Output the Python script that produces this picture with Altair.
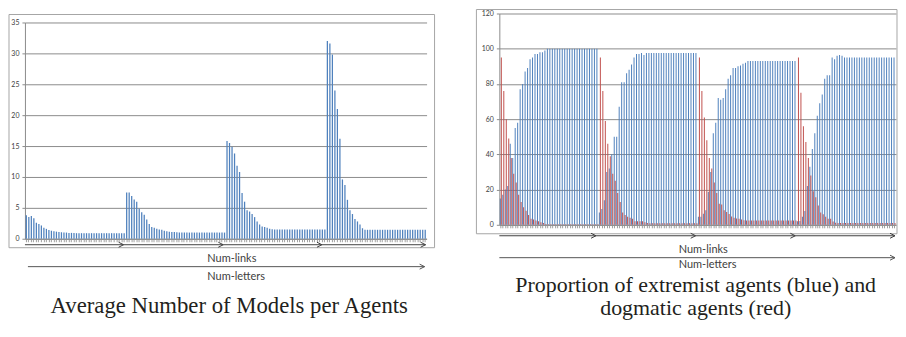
import altair as alt
import pandas as pd

# ---------------- data ----------------
# Left: average number of models per agent (4 groups x 40 settings)
models_g1 = [3.8, 3.5, 3.7, 3.3, 2.6, 2.4, 2.15, 1.8, 1.6, 1.4,
             1.3, 1.2, 1.15, 1.1, 1.05, 1.0, 1.0, 0.95, 0.95, 0.95,
             0.9, 0.9, 0.9, 0.9, 0.9, 0.9, 0.9, 0.9, 0.9, 0.9,
             0.9, 0.9, 0.9, 0.9, 0.9, 0.9, 0.9, 0.9, 0.9, 0.9]
models_g2 = [7.5, 7.5, 6.9, 6.35, 6.0, 4.9, 4.3, 3.9, 3.1, 2.4,
             1.9, 1.8, 1.6, 1.5, 1.45, 1.3, 1.2, 1.15, 1.1, 1.1,
             1.05, 1.0, 1.0, 1.0, 1.0, 1.0, 1.0, 1.0, 1.0, 1.0,
             1.0, 1.0, 1.0, 1.0, 1.0, 1.0, 1.0, 1.0, 1.0, 1.0]
models_g3 = [15.8, 15.5, 14.9, 13.8, 11.8, 10.8, 7.4, 6.0, 4.6, 4.4,
             4.0, 3.5, 2.8, 2.3, 2.0, 1.9, 1.8, 1.6, 1.55, 1.5,
             1.5, 1.5, 1.5, 1.5, 1.5, 1.5, 1.5, 1.5, 1.5, 1.5,
             1.5, 1.5, 1.5, 1.5, 1.5, 1.5, 1.5, 1.5, 1.5, 1.5]
models_g4 = [32.0, 31.6, 29.8, 24.0, 21.0, 16.2, 9.6, 8.7, 6.3, 4.6,
             4.0, 3.2, 2.8, 2.3, 1.7, 1.45, 1.45, 1.45, 1.45, 1.45,
             1.45, 1.45, 1.45, 1.45, 1.45, 1.45, 1.45, 1.45, 1.45, 1.45,
             1.45, 1.45, 1.45, 1.45, 1.45, 1.45, 1.45, 1.45, 1.45, 1.45]

# Right: proportion of extremist (blue) and dogmatic (red) agents
extremist_g1 = [15, 17, 20, 22, 46, 38, 55, 58, 77, 80,
                87, 89, 94, 95, 97, 97, 98, 98, 99, 100,
                100, 100, 100, 100, 100, 100, 100, 100, 100, 100,
                100, 100, 100, 100, 100, 100, 100, 100, 100, 100]
dogmatic_g1 = [95, 76, 60, 49, 38, 29, 24, 17, 13, 10,
               8, 5.5, 3.5, 3, 2.5, 2, 1.5, 1, 0.5, 0.3,
               0.3, 0.3, 0.3, 0.3, 0.3, 0.3, 0.3, 0.3, 0.3, 0.3,
               0.3, 0.3, 0.3, 0.3, 0.3, 0.3, 0.3, 0.3, 0.3, 0.3]
extremist_g2 = [7, 9, 14, 30, 32, 40, 50, 50, 67, 81,
                81, 86, 88, 91, 95, 97, 97, 97.5, 96.5, 97.5,
                97.5, 97.5, 97.5, 97.5, 97.5, 97.5, 97.5, 97.5, 97.5, 97.5,
                97.5, 97.5, 97.5, 97.5, 97.5, 97.5, 97.5, 97.5, 97.5, 97.5]
dogmatic_g2 = [95, 76, 59, 46, 39, 29, 25, 18, 13, 7,
               5.5, 4.5, 4, 3.5, 2, 2, 2, 2, 1.5, 1,
               0.9, 0.9, 0.9, 0.9, 0.9, 0.9, 0.9, 0.9, 0.9, 0.9,
               0.9, 0.9, 0.9, 0.9, 0.9, 0.9, 0.9, 0.9, 0.9, 0.9]
extremist_g3 = [4.5, 4.5, 6.3, 8.2, 18.6, 30, 52, 58, 72, 71,
                72, 77, 83, 85, 89, 89, 90, 90.5, 91.5, 92,
                93, 93, 93, 93, 93, 93, 93, 93, 93, 93,
                93, 93, 93, 93, 93, 93, 93, 93, 93, 93]
dogmatic_g3 = [95, 76, 61, 48, 38, 32, 24, 18, 12, 11.5,
               8.2, 7.3, 6.1, 4.7, 4, 3.6, 3.4, 3, 2.6, 2.4,
               2.4, 2.4, 2.4, 2.4, 2.4, 2.4, 2.4, 2.4, 2.4, 2.4,
               2.4, 2.4, 2.4, 2.4, 2.4, 2.4, 2.4, 2.4, 2.4, 2.4]
extremist_g4 = [2, 2.2, 4.5, 7.8, 22, 33, 43, 52, 62, 69,
                74, 83, 85, 85, 95, 94, 96, 96.5, 96, 95,
                95, 95, 95, 95, 95, 95, 95, 95, 95, 95,
                95, 95, 95, 95, 95, 95, 95, 95, 95, 95]
dogmatic_g4 = [95, 75, 56, 47, 38, 28, 19, 15.6, 11, 7,
               6, 4.5, 3.4, 3.4, 1.9, 1.2, 1.0, 1.0, 1.0, 1.0,
               1.0, 1.0, 1.0, 1.0, 1.0, 1.0, 1.0, 1.0, 1.0, 1.0,
               1.0, 1.0, 1.0, 1.0, 1.0, 1.0, 1.0, 1.0, 1.0, 1.0]

left_ticks = [0, 5, 10, 15, 20, 25, 30, 35]
right_ticks = [0, 20, 40, 60, 80, 100, 120]
series_names = ["extremist", "dogmatic"]

# ---------------- tables ----------------
models = models_g1 + models_g2 + models_g3 + models_g4
extremist = extremist_g1 + extremist_g2 + extremist_g3 + extremist_g4
dogmatic = dogmatic_g1 + dogmatic_g2 + dogmatic_g3 + dogmatic_g4

left_df = pd.DataFrame({"i": list(range(len(models))), "v": models})
n = len(extremist)
right_df = pd.DataFrame({
    "i": list(range(n)) + list(range(n)),
    "s": [series_names[0]] * n + [series_names[1]] * n,
    "v": extremist + dogmatic,
})

BLUE = "#4F81BD"
RED = "#C0504D"
GRID = "#8C8C8C"
FRAME = "#A6A6A6"
DARK = "#404040"
ONE = alt.Data(values=[{}])


def seg(x1, y1, x2, y2, color=DARK, width=1):
    return alt.Chart(ONE).mark_rule(color=color, strokeWidth=width).encode(
        x=alt.value(x1), y=alt.value(y1), x2=alt.value(x2), y2=alt.value(y2))


def arrow(x0, x1, y, color=DARK):
    return [seg(x0, y, x1, y, color), seg(x1 - 5, y - 2.5, x1, y, color),
            seg(x1 - 5, y + 2.5, x1, y, color)]


def label(txt, x, y, size=11, font="Lato", align="left", color=DARK):
    return alt.Chart(ONE).mark_text(text=txt, align=align, baseline="middle",
                                    font=font, fontSize=size, color=color).encode(
        x=alt.value(x), y=alt.value(y))


def frame(x0, x1, y0, y1):
    return alt.Chart(ONE).mark_rect(fillOpacity=0, stroke=FRAME, strokeWidth=1).encode(
        x=alt.value(x0), x2=alt.value(x1), y=alt.value(y0), y2=alt.value(y1))


x_axis = alt.Axis(labels=False, ticks=True, tickSize=3, tickColor="#A0A0A0",
                  domainColor=GRID, grid=False, title=None)


def y_axis(vals):
    return alt.Axis(values=vals, grid=True, gridColor=GRID, gridWidth=1,
                    domainColor=GRID, tickColor=GRID, tickSize=3, labelPadding=3,
                    labelFontSize=7, labelFont="Lato", labelColor=DARK, title=None)


# ---------------- left panel ----------------
# plot area starts 9px above the "35" gridline so both panels share one origin
W1, H1 = 403, 226
left_bars = alt.Chart(left_df).mark_bar(color=BLUE).encode(
    x=alt.X("i:O", scale=alt.Scale(paddingInner=0.5, paddingOuter=0.3), axis=x_axis),
    y=alt.Y("v:Q", scale=alt.Scale(domain=[0, 35], nice=False, range=[H1, 9]),
            axis=y_axis(left_ticks)),
)
left_layers = [frame(-16, 411, 1, 235), left_bars]
for a, b in [(0, 99), (99, 199), (199, 298), (298, 402)]:
    left_layers += arrow(a, b, 232)
left_layers += arrow(3, 401, 254, "#555555")
left_layers += [
    label("Num-links", 183, 246),
    label("Num-letters", 183, 264),
    label("Average Number of Models per Agents", 205, 294, size=22.8,
          font="Liberation Serif", align="center", color="#231F20"),
]
left = alt.layer(*left_layers).properties(width=W1, height=H1)

# ---------------- right panel ----------------
W2, H2 = 398, 212
right_bars = alt.Chart(right_df).mark_bar().encode(
    x=alt.X("i:O", scale=alt.Scale(paddingInner=0.2, paddingOuter=0.2), axis=x_axis),
    xOffset=alt.XOffset("s:N", scale=alt.Scale(domain=series_names)),
    y=alt.Y("v:Q", scale=alt.Scale(domain=[0, 120], nice=False), axis=y_axis(right_ticks)),
    color=alt.Color("s:N", scale=alt.Scale(domain=series_names, range=[BLUE, RED]), legend=None),
)
right_layers = [frame(-23, 399, -4, 221), right_bars]
for a, b in [(0, 97), (97, 197), (197, 297), (297, 397)]:
    right_layers += arrow(a, b, 223)
right_layers += arrow(0, 397, 245, "#555555")
right_layers += [
    label("Num-links", 180, 237),
    label("Num-letters", 180, 252),
    label("Proportion of extremist agents (blue) and", 197, 272.5, size=22,
          font="Liberation Serif", align="center", color="#231F20"),
    label("dogmatic agents (red)", 197, 295.5, size=22,
          font="Liberation Serif", align="center", color="#231F20"),
]
right = alt.layer(*right_layers).properties(width=W2, height=H2)

chart = alt.hconcat(left, right, spacing=40).properties(
    padding={"left": 0, "top": 0, "right": 0, "bottom": 0}
).configure_view(stroke=None)

chart.save("out.html", embed_options={"renderer": "svg", "actions": False})
